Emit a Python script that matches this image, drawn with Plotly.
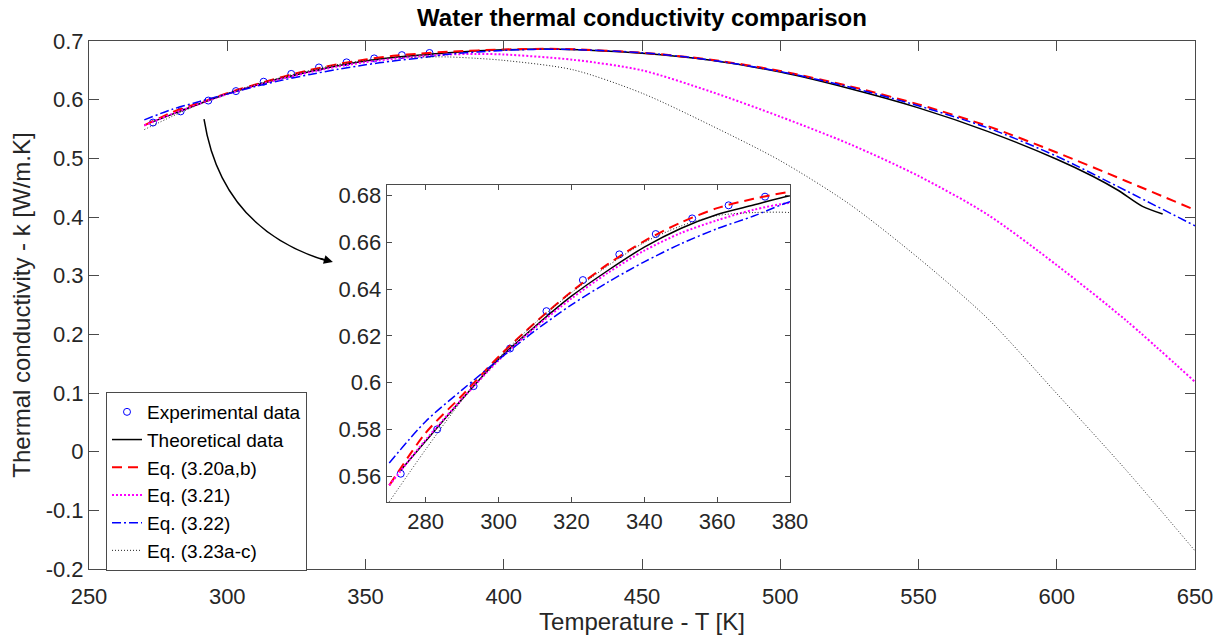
import plotly.graph_objects as go

# ---------------- data ----------------
T_exp = [273.15, 283.15, 293.15, 303.15, 313.15, 323.15, 333.15, 343.15, 353.15, 363.15, 373.15]
k_exp = [0.561, 0.580, 0.5985, 0.6146, 0.6306, 0.6439, 0.6549, 0.6636, 0.6703, 0.6759, 0.6796]

T_theory = [273.15, 280, 290, 300, 310, 320, 330, 340, 350, 360, 370, 380, 400, 420, 450,
            475, 500, 525, 550, 575, 600, 613, 622, 631, 638.3]
k_theory = [0.5625, 0.575, 0.593, 0.610, 0.624, 0.637, 0.648, 0.658, 0.666, 0.672, 0.676, 0.680,
            0.685, 0.686, 0.679, 0.667, 0.647, 0.619, 0.586, 0.546, 0.4985, 0.4695, 0.446, 0.418, 0.405]

T_eq = [270, 280, 290, 300, 310, 320, 330, 340, 350, 360, 370, 380, 400, 420, 450,
        475, 500, 525, 550, 575, 600, 625, 650]
k_eq320 = [0.556, 0.5785, 0.5945, 0.6111, 0.6256, 0.6389, 0.6507, 0.6606, 0.6685, 0.6747, 0.6787, 0.6817,
           0.6855, 0.6865, 0.6800, 0.6680, 0.6490, 0.6230, 0.5920, 0.5550, 0.5100, 0.4614, 0.412]
k_eq322 = [0.5656, 0.5834, 0.5969, 0.6098, 0.6222, 0.6333, 0.6430, 0.6517, 0.6594, 0.6659, 0.6713, 0.6774,
           0.6840, 0.6860, 0.6800, 0.6675, 0.6480, 0.6215, 0.5895, 0.5520, 0.5035, 0.4449, 0.385]

T_eq2 = [270, 280, 290, 300, 310, 320, 330, 340, 350, 360, 370, 380, 390, 400, 425, 450,
         475, 500, 525, 550, 575, 600, 625, 650]
k_eq321 = [0.556, 0.5755, 0.593, 0.6095, 0.6235, 0.636, 0.647, 0.6565, 0.664, 0.6695, 0.674, 0.677,
           0.678, 0.677, 0.668, 0.650, 0.6135, 0.571, 0.5245, 0.470, 0.404, 0.318, 0.224, 0.119]
k_eq323 = [0.549, 0.5714, 0.5925, 0.6105, 0.6255, 0.6385, 0.650, 0.660, 0.667, 0.6715, 0.6728, 0.6728,
           0.6705, 0.667, 0.651, 0.611, 0.556, 0.496, 0.422, 0.330, 0.227, 0.099, -0.031, -0.169]

x_ticks = [250, 300, 350, 400, 450, 500, 550, 600, 650]
x_ticklabels = ["250", "300", "350", "400", "450", "500", "550", "600", "650"]
y_ticks = [-0.2, -0.1, 0, 0.1, 0.2, 0.3, 0.4, 0.5, 0.6, 0.7]
y_ticklabels = ["-0.2", "-0.1", "0", "0.1", "0.2", "0.3", "0.4", "0.5", "0.6", "0.7"]
xi_ticks = [280, 300, 320, 340, 360, 380]
xi_ticklabels = ["280", "300", "320", "340", "360", "380"]
yi_ticks = [0.56, 0.58, 0.60, 0.62, 0.64, 0.66, 0.68]
yi_ticklabels = ["0.56", "0.58", "0.6", "0.62", "0.64", "0.66", "0.68"]

# ---------------- styling ----------------
FONT = "Liberation Sans, Arial, Helvetica, sans-serif"
AX = "#262626"
FRAME = "#4a4a4a"

series = [
    dict(name="Theoretical data", x=T_theory, y=k_theory, color="black", width=1.5, dash="solid"),
    dict(name="Eq. (3.20a,b)", x=T_eq, y=k_eq320, color="#ff0000", width=2, dash="10px,6px"),
    dict(name="Eq. (3.21)", x=T_eq2, y=k_eq321, color="#ff00ff", width=2, dash="2px,2px"),
    dict(name="Eq. (3.22)", x=T_eq, y=k_eq322, color="#0000ff", width=1.5, dash="9px,3px,2px,3px"),
    dict(name="Eq. (3.23a-c)", x=T_eq2, y=k_eq323, color="#222222", width=1, dash="1px,2px"),
]

fig = go.Figure()

for ax_x, ax_y, show in (("x", "y", True), ("x2", "y2", False)):
    fig.add_trace(go.Scatter(
        x=T_exp, y=k_exp, mode="markers", name="Experimental data",
        marker=dict(symbol="circle-open", color="#0000ff", size=7, line=dict(width=1)),
        xaxis=ax_x, yaxis=ax_y, showlegend=show, cliponaxis=True))
    for s in series:
        fig.add_trace(go.Scatter(
            x=s["x"], y=s["y"], mode="lines", name=s["name"],
            line=dict(color=s["color"], width=s["width"], dash=s["dash"], shape="spline", smoothing=0.8),
            xaxis=ax_x, yaxis=ax_y, showlegend=show))

common_axis = dict(showgrid=False, zeroline=False, showline=True, linecolor=FRAME, linewidth=1,
                   mirror="ticks", ticks="inside", tickcolor=FRAME, automargin=False,
                   tickfont=dict(family=FONT, size=22, color=AX))

fig.update_layout(
    width=1223, height=635, autosize=False,
    margin=dict(l=89, r=28, t=41, b=66),
    paper_bgcolor="white", plot_bgcolor="white",
    font=dict(family=FONT, color=AX),
    title=dict(text="<b>Water thermal conductivity comparison</b>", x=(89 + 1195) / 2 / 1223, xanchor="center",
               y=1 - 18 / 635, yanchor="middle", yref="container",
               font=dict(family=FONT, size=24, color="black")),
    xaxis=dict(range=[250, 650], domain=[0, 1], tickvals=x_ticks, ticktext=x_ticklabels, ticklen=10,
               ticklabelstandoff=8,
               title=dict(text="Temperature - T [K]", font=dict(family=FONT, size=24, color=AX), standoff=6),
               **common_axis),
    yaxis=dict(range=[-0.2, 0.7], domain=[0, 1], tickvals=y_ticks, ticktext=y_ticklabels, ticklen=10,
               title=dict(text="Thermal conductivity - k [W/m.K]", font=dict(family=FONT, size=24, color=AX), standoff=8),
               **common_axis),
    xaxis2=dict(range=[269.3, 380], domain=[(386.7 - 89) / 1106, (790 - 89) / 1106], anchor="y2",
                tickvals=xi_ticks, ticktext=xi_ticklabels, ticklen=5, **common_axis),
    yaxis2=dict(range=[0.5489, 0.6846], domain=[(569 - 502) / 528, (569 - 185) / 528], anchor="x2",
                tickvals=yi_ticks, ticktext=yi_ticklabels, ticklen=5, **common_axis),
    legend=dict(x=(106 - 89) / 1106, y=(569 - 392) / 528, xanchor="left", yanchor="top",
                bgcolor="white", bordercolor=FRAME, borderwidth=1,
                font=dict(family=FONT, size=19, color="black"), tracegroupgap=0),
    showlegend=True,
)

# curved arrow pointing from the main curve to the inset
P0 = (291.6, 0.567)
C1 = (297.9, 0.3787)
P2 = (336.5, 0.3245)
fig.add_shape(type="path", xref="x", yref="y",
              path=f"M {P0[0]},{P0[1]} Q {C1[0]},{C1[1]} {P2[0]},{P2[1]}",
              line=dict(color="black", width=1.5))
fig.add_annotation(x=338.2, y=0.3233, xref="x", yref="y", ax=-14, ay=-4, axref="pixel", ayref="pixel",
                   text="", showarrow=True, arrowhead=2, arrowsize=1.2, arrowwidth=1.5, arrowcolor="black",
                   standoff=0)

fig.write_html("out.html")
